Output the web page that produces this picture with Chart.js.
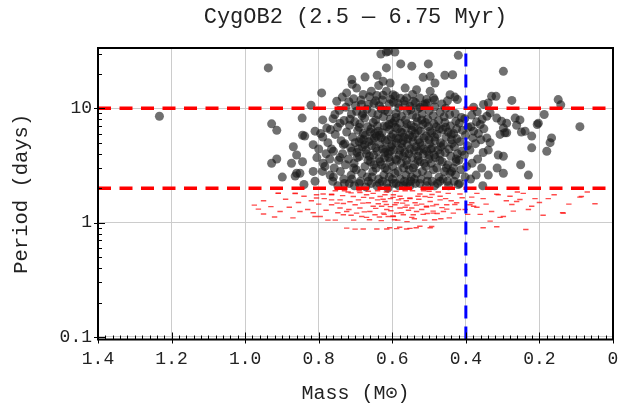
<!DOCTYPE html>
<html>
<head>
<meta charset="utf-8">
<script src="https://cdn.jsdelivr.net/npm/chart.js@4.4.1/dist/chart.umd.min.js"></script>
<style>
  html, body { margin: 0; padding: 0; background: #fff; }
  canvas { display: block; }
</style>
</head>
<body>
<canvas id="graficoPeriodos" width="620" height="407"></canvas>
<script>
// [mass (Msun), period (days)]
const slowRotators = [
  [1.233,8.5],[0.937,22.5],[0.928,7.3],[0.914,6.4],[0.792,13.6],[0.845,8.2],[0.869,4.6],[0.860,3.9],
  [0.914,3.6],[0.928,3.3],[0.874,3.3],[0.844,3.4],[0.899,2.5],[0.860,2.7],[0.851,2.7],[0.864,2.55],
  [0.840,2.15],[0.844,5.8],[0.838,5.7],[0.815,4.8],[0.810,6.3],[0.821,10.6],[0.815,2.8],[0.810,2.3],
  [0.788,3.3],[0.789,5.6],[0.789,7.9],[0.778,6.7],[0.751,11.5],[0.756,8.8],[0.724,13.6],[0.710,17.8],
  [0.697,15.0],[0.674,18.7],[0.641,19.4],[0.631,29.8],[0.611,31.5],[0.616,22.5],[0.769,2.6],[0.760,2.5],
  [0.783,3.1],[0.742,3.7],[0.733,4.8],[0.742,7.4],[0.760,4.2],
  [0.4205,29],[0.577,24.4],[0.547,23.3],[0.502,24.4],[0.616,31],[0.593,31],[0.516,18.6],[0.497,19],
  [0.457,19.4],[0.436,19.6],[0.484,16.6],[0.298,21],[0.443,13.1],[0.423,11.9],[0.330,12.7],[0.318,12.7],
  [0.339,11.1],[0.275,11.7],[0.149,11.9],[0.142,10.7],[0.090,6.9],[0.187,8.8],[0.206,7.2],[0.266,8.2],
  [0.253,7.9],[0.262,7.1],[0.249,6.2],[0.239,6.3],[0.221,5.7],[0.167,5.5],[0.171,5.0],[0.180,4.2],
  [0.221,4.5],[0.339,4.3],[0.312,3.9],[0.298,3.8],[0.289,6.1],[0.298,6.7],[0.251,3.2],[0.230,2.6],
  [0.315,3.0],[0.298,2.7],[0.339,2.6],[0.354,2.1],[0.4205,2.15],[0.439,2.8],[0.427,3.4],[0.379,6.3],
  [0.361,7.2],[0.343,5.5],[0.334,5.0],[0.307,5.9],[0.294,6.1],[0.316,8.2],[0.303,7.7],[0.289,7.4],
  [0.334,9.1],[0.343,8.5],[0.203,7.4],
  [0.625,17.2],[0.606,16.6],[0.616,14.1],[0.598,13.1],[0.565,15.0],[0.534,14.5],[0.561,12.3],[0.543,11.5],
  [0.525,12.3],[0.497,14.1],[0.488,12.3],
  [0.762,2.3],[0.758,3.0],[0.765,4.4],[0.755,5.9],[0.761,8.1],
  [0.748,2.1],[0.741,2.8],[0.746,3.5],[0.739,5.2],[0.749,6.8],[0.744,9.6],[0.736,12.5],
  [0.732,2.4],[0.727,3.2],[0.735,4.0],[0.729,4.9],[0.724,6.2],[0.731,7.8],[0.726,10.2],
  [0.717,2.2],[0.712,2.6],[0.719,3.6],[0.713,4.5],[0.708,5.6],[0.716,7.1],[0.711,8.9],[0.718,11.4],[0.709,16.2],
  [0.703,2.1],[0.698,2.9],[0.704,3.3],[0.696,4.1],[0.701,5.0],[0.694,6.4],[0.702,7.6],[0.697,9.4],[0.705,12.1],
  [0.687,2.3],[0.683,2.7],[0.689,3.8],[0.681,4.6],[0.686,5.4],[0.679,6.0],[0.688,7.3],[0.682,8.6],[0.684,10.8],[0.679,13.2],
  [0.672,2.05],[0.668,2.5],[0.674,3.1],[0.666,3.5],[0.671,4.3],[0.664,5.1],[0.673,5.8],[0.667,6.9],[0.675,8.2],[0.669,9.8],[0.662,12.6],
  [0.657,2.2],[0.653,2.8],[0.659,3.4],[0.651,3.9],[0.656,4.7],[0.649,5.5],[0.658,6.6],[0.652,7.5],[0.655,9.1],[0.650,11.0],[0.657,14.1],
  [0.642,2.1],[0.637,2.4],[0.644,3.0],[0.636,3.6],[0.641,4.2],[0.634,4.9],[0.643,5.7],[0.638,6.3],[0.645,7.9],[0.639,8.8],[0.635,10.5],[0.642,12.9],[0.637,15.8],
  [0.627,2.3],[0.623,2.6],[0.629,3.2],[0.621,3.7],[0.626,4.4],[0.619,5.2],[0.628,6.1],[0.622,7.0],[0.624,8.4],[0.620,9.6],[0.627,11.8],
  [0.612,2.0],[0.608,2.5],[0.614,2.9],[0.606,3.4],[0.611,4.0],[0.604,4.6],[0.613,5.3],[0.607,6.5],[0.609,7.2],[0.605,8.0],[0.612,9.3],[0.608,10.9],
  [0.597,2.2],[0.593,2.7],[0.599,3.1],[0.591,3.6],[0.596,4.3],[0.589,5.0],[0.598,5.9],[0.592,6.8],[0.594,7.7],[0.590,9.0],[0.597,11.3],[0.592,12.8],
  [0.582,2.1],[0.578,2.4],[0.584,2.8],[0.576,3.3],[0.581,3.9],[0.574,4.5],[0.583,5.4],[0.577,6.2],[0.579,7.4],[0.575,8.5],[0.582,10.1],[0.578,12.2],
  [0.567,2.3],[0.563,2.6],[0.569,3.0],[0.561,3.5],[0.566,4.1],[0.559,4.8],[0.568,5.6],[0.562,6.7],[0.564,7.9],[0.560,9.4],[0.567,11.6],
  [0.552,2.1],[0.548,2.5],[0.554,2.9],[0.546,3.7],[0.551,4.4],[0.544,5.1],[0.553,5.8],[0.547,6.4],[0.549,7.1],[0.545,8.7],[0.552,10.4],
  [0.537,2.2],[0.533,2.7],[0.539,3.2],[0.531,3.8],[0.536,4.6],[0.529,5.3],[0.538,6.0],[0.532,7.6],[0.534,8.3],[0.530,9.9],[0.537,11.2],
  [0.522,2.4],[0.518,2.8],[0.524,3.4],[0.516,4.0],[0.521,4.7],[0.514,5.5],[0.523,6.3],[0.517,7.2],[0.519,8.9],[0.515,10.7],
  [0.507,2.1],[0.503,2.6],[0.509,3.1],[0.501,3.6],[0.506,4.2],[0.499,4.9],[0.508,5.7],[0.502,6.9],[0.504,8.0],[0.500,9.5],[0.506,12.0],
  [0.492,2.3],[0.488,2.9],[0.494,3.3],[0.486,3.9],[0.491,4.5],[0.484,5.2],[0.493,6.1],[0.487,7.3],[0.489,8.6],[0.485,10.3],
  [0.477,2.2],[0.473,2.5],[0.479,3.0],[0.471,3.5],[0.476,4.3],[0.469,5.0],[0.478,5.9],[0.472,6.6],[0.474,7.8],[0.470,9.2],
  [0.462,2.4],[0.458,2.8],[0.464,3.4],[0.456,4.1],[0.461,4.8],[0.454,5.6],[0.463,6.5],[0.457,7.5],[0.459,8.4],[0.455,10.0],
  [0.447,2.1],[0.443,2.7],[0.449,3.2],[0.441,3.8],[0.446,4.4],[0.439,5.3],[0.448,6.2],[0.442,7.0],[0.444,8.8],
  [0.432,2.3],[0.428,2.6],[0.434,3.0],[0.426,3.6],[0.431,4.6],[0.424,5.4],[0.433,6.0],[0.427,7.7],[0.429,9.0],
  [0.417,2.2],[0.413,2.9],[0.419,3.5],[0.411,4.2],[0.416,5.1],[0.409,6.4],[0.418,7.4],[0.412,8.3],
  [0.402,2.5],[0.398,3.1],[0.404,3.9],[0.396,4.7],[0.401,5.8],[0.394,6.8],[0.403,8.1],
  [0.387,2.4],[0.383,3.3],[0.389,4.3],[0.381,5.5],[0.386,6.9],[0.384,8.7],[0.379,10.2],
  [0.372,2.6],[0.368,3.6],[0.374,4.9],[0.366,6.0],[0.371,7.6],[0.369,9.3],
  [0.357,3.0],[0.353,4.1],[0.359,5.3],[0.351,6.6],[0.356,8.0],[0.352,10.8],
  [0.695,3.7],[0.675,4.8],[0.660,6.2],[0.645,4.5],[0.630,5.5],[0.615,6.9],[0.600,4.8],[0.585,6.6],
  [0.570,5.2],[0.555,4.0],[0.540,6.8],[0.525,5.0],[0.510,7.5],[0.495,4.4],[0.480,6.9],[0.665,2.3],
  [0.615,2.2],[0.570,2.1],[0.525,2.2],[0.485,2.1],[0.690,5.1],[0.650,3.2],[0.610,3.7],[0.570,3.8],
  [0.530,3.5],[0.600,2.4],[0.550,2.3],[0.620,4.1],[0.580,4.3],[0.540,4.3],[0.500,5.3],[0.640,7.0],
  [0.600,7.4],[0.560,7.3],[0.520,7.9],[0.680,9.0],[0.630,9.9],[0.590,8.3],[0.550,9.7],[0.510,10.9],
  [0.705,3.0],[0.692,4.4],[0.678,5.3],[0.662,3.8],[0.648,6.0],[0.633,3.4],[0.618,4.4],[0.603,5.6],
  [0.588,3.5],[0.573,6.1],[0.558,5.4],[0.543,3.0],[0.528,4.2],[0.513,3.3],[0.498,6.3],[0.483,3.7],
  [0.468,4.6],[0.453,3.0],[0.438,4.9],[0.423,4.0],
  [0.710,4.2],[0.690,6.8],[0.670,4.0],[0.655,5.2],[0.635,5.8],[0.620,3.0],[0.605,4.2],[0.590,5.5],
  [0.575,4.9],[0.560,3.2],[0.545,5.6],[0.530,6.4],[0.515,4.4],[0.500,3.9],[0.485,5.6],[0.470,4.0],
  [0.455,6.8],[0.440,5.9],[0.425,6.6],
  [0.715,8.0],[0.700,10.5],[0.685,11.8],[0.665,10.8],[0.645,11.6],[0.625,13.0],[0.605,12.0],[0.585,11.0],
  [0.565,10.7],[0.545,13.2],[0.525,10.2],[0.505,11.1],[0.485,11.8],[0.465,10.9],[0.450,11.6],[0.430,12.5],
  [0.730,2.2],[0.710,2.4],[0.690,2.2],[0.655,2.5],[0.635,2.2],[0.590,2.2],[0.560,2.2],[0.540,2.4],
  [0.505,2.3],[0.470,2.3],[0.450,2.3],
  [0.770,3.6],[0.775,5.0],[0.780,4.0],[0.768,6.5],[0.790,2.8],[0.800,4.4],[0.805,3.7],[0.795,6.0]
];

const fastRotators = [
  [0.910,1.81],[0.864,1.81],[0.806,1.75],[0.806,1.64],[0.765,1.75],[0.964,1.31],[0.950,1.19],[0.905,1.25],
  [0.851,1.25],[0.810,1.13],[0.796,1.13],[0.975,1.42],[0.765,1.58],[0.765,1.43],
  [0.742,1.58],[0.733,1.47],[0.742,1.34],[0.724,1.25],[0.733,1.17],
  [0.706,1.69],[0.692,1.58],[0.701,1.43],[0.688,1.34],[0.697,1.21],[0.683,1.13],
  [0.670,1.75],[0.656,1.64],[0.665,1.49],[0.652,1.39],[0.661,1.25],[0.647,1.17],[0.670,1.11],
  [0.633,1.69],[0.620,1.53],[0.629,1.39],[0.615,1.30],[0.624,1.21],[0.611,1.13],
  [0.597,1.75],[0.583,1.58],[0.593,1.43],[0.579,1.34],[0.588,1.21],[0.570,1.17],[0.597,1.13],
  [0.552,1.64],[0.538,1.49],[0.547,1.34],[0.534,1.25],[0.543,1.17],
  [0.511,1.69],[0.497,1.53],[0.507,1.39],[0.489,1.21],
  [0.470,1.58],[0.452,1.43],[0.461,1.25],[0.425,1.49],[0.389,1.43],[0.434,1.21],[0.402,1.30],
  [0.724,0.895],[0.701,0.877],[0.679,0.88],[0.642,0.88],[0.615,0.88],[0.588,0.885],[0.561,0.88],[0.535,0.90],[0.493,0.925],
  [0.620,1.75],[0.598,1.66],[0.579,1.70],[0.552,1.62],[0.525,1.78],[0.497,1.66],[0.470,1.70],[0.448,1.80],
  [0.616,1.44],[0.589,1.49],[0.565,1.36],[0.534,1.42],[0.507,1.37],[0.480,1.44],[0.452,1.31],[0.430,1.44],
  [0.622,1.18],[0.598,1.14],[0.575,1.22],[0.547,1.11],[0.516,1.18],[0.489,1.26],
  [0.607,0.90],[0.580,0.91],[0.552,0.89],[0.525,0.93],[0.497,0.90],
  [0.910,1.80],[0.864,1.79],[0.788,1.78],[0.765,1.77],[0.720,1.85],[0.688,1.83],[0.652,1.80],[0.616,1.85],
  [0.416,1.78],[0.384,1.67],[0.353,1.62],[0.316,1.77],[0.280,1.70],[0.244,1.80],[0.212,1.62],[0.176,1.62],
  [0.090,1.67],[0.049,1.46],[0.137,1.22],[0.190,1.16],[0.237,0.87],[0.271,1.26],[0.307,1.11],[0.361,1.18],
  [0.353,0.90],[0.384,1.49],[0.316,0.92],[0.334,1.03],[0.370,1.36],[0.221,1.39],[0.275,1.44],
  [0.312,1.75],[0.262,1.53],[0.253,1.59],[0.086,1.69],[0.135,1.21],[0.298,1.13],[0.379,1.39],
  [0.735,1.72],[0.715,1.52],[0.678,1.66],[0.640,1.58],[0.605,1.62],[0.562,1.55],[0.528,1.60],[0.492,1.76],
  [0.718,1.30],[0.676,1.24],[0.638,1.46],[0.604,1.27],[0.572,1.48],[0.556,1.28],[0.520,1.30],[0.478,1.20],
  [0.748,1.22],[0.712,1.16],[0.662,1.06],[0.630,1.04],[0.594,1.06],[0.560,1.02],[0.512,1.05],[0.468,1.08],
  [0.950,1.55],[0.930,1.38],[0.920,1.12],[0.890,1.60],[0.880,1.36],[0.870,1.10],[0.855,1.50],[0.840,1.70],
  [0.830,1.30],[0.820,1.55],[0.815,1.22],[0.800,1.45],[0.785,1.62],[0.780,1.28],[0.775,1.05],[0.755,1.90],
  [0.750,1.48],[0.755,1.05],[0.730,1.90],[0.712,1.82],[0.705,1.05],[0.690,1.90],[0.680,1.48],[0.665,1.88],
  [0.645,1.33],[0.640,1.90],[0.635,1.12],[0.625,1.60],[0.610,1.92],[0.605,1.38],[0.590,1.88],[0.585,1.05],
  [0.575,1.62],[0.565,1.90],[0.560,1.42],[0.545,1.90],[0.540,1.08],[0.530,1.70],[0.520,1.45],[0.515,1.90],
  [0.505,1.20],[0.500,1.88],[0.490,1.40],[0.485,1.06],[0.475,1.85],[0.465,1.35],[0.455,1.62],[0.445,1.10],
  [0.440,1.55],[0.420,1.30],[0.410,1.65],[0.395,1.18],[0.370,1.80],[0.345,1.45],[0.330,1.25],[0.290,1.55],
  [0.260,1.85],[0.230,1.30],[0.200,1.50],[0.160,1.75],[0.120,1.45],[0.070,1.85]
];

const cutPeriods = [10, 2];
const massCut = 0.4;
const massRange = [1.4, 0];
const periodRange = [0.095, 33.6];
const massTicks = [1.4, 1.2, 1.0, 0.8, 0.6, 0.4, 0.2, 0];
const periodTicks = [0.1, 1, 10];

const fuente = "'Liberation Mono', 'DejaVu Sans Mono', monospace";

// marco y marcas interiores, como en la figura original
const marcoEjes = {
  id: 'marcoEjes',
  afterDraw(chart) {
    const { ctx, chartArea: a, scales: { x, y } } = chart;
    ctx.save();
    ctx.strokeStyle = '#000';
    ctx.lineWidth = 1;
    ctx.beginPath();
    for (let i = 0; i <= 70; i++) {
      const px = Math.round(x.getPixelForValue(i * 0.02)) + 0.5;
      const mayor = i % 10 === 0;
      ctx.moveTo(px, a.bottom + (mayor ? 4 : 0));
      ctx.lineTo(px, a.bottom - (mayor ? 7 : 4));
    }
    for (let d = -2; d <= 1; d++) {
      for (let k = 1; k <= 9; k++) {
        const v = k * Math.pow(10, d);
        if (v < y.min || v > y.max) continue;
        const py = Math.round(y.getPixelForValue(v)) + 0.5;
        const mayor = k === 1;
        ctx.moveTo(a.left - (mayor ? 4 : 0), py);
        ctx.lineTo(a.left + (mayor ? 7 : 4), py);
      }
    }
    ctx.stroke();
    ctx.lineWidth = 2;
    ctx.strokeRect(a.left, a.top, a.right - a.left, a.bottom - a.top);
    ctx.restore();
  }
};

const ctx = document.getElementById('graficoPeriodos').getContext('2d');

const grafico = new Chart(ctx, {
  type: 'scatter',
  data: {
    datasets: [
      {
        label: 'masa limite',
        data: [{ x: massCut, y: periodRange[0] }, { x: massCut, y: periodRange[1] }],
        showLine: true,
        borderColor: '#0000ff',
        borderWidth: 3,
        borderDash: [13, 8],
        pointRadius: 0,
        order: 0
      },
      ...cutPeriods.map(p => ({
        label: 'corte ' + p,
        data: [{ x: massRange[0], y: p }, { x: massRange[1], y: p }],
        showLine: true,
        borderColor: '#ff0000',
        borderWidth: 3.5,
        borderDash: [13, 8.5],
        pointRadius: 0,
        order: 1
      })),
      {
        label: 'rapidas',
        data: fastRotators.map(([m, p]) => ({ x: m, y: p })),
        pointStyle: 'line',
        pointRadius: 2.7,
        borderColor: 'rgba(255,0,0,0.7)',
        borderWidth: 1.4,
        order: 2
      },
      {
        label: 'lentas',
        data: slowRotators.map(([m, p]) => ({ x: m, y: p })),
        pointRadius: 4.5,
        borderWidth: 0,
        backgroundColor: 'rgba(25,25,25,0.62)',
        order: 3
      }
    ]
  },
  options: {
    responsive: false,
    animation: false,
    devicePixelRatio: 1,
    events: [],
    layout: { padding: { left: 0, right: 7, top: 0, bottom: 0 } },
    plugins: {
      legend: { display: false },
      tooltip: { enabled: false },
      title: {
        display: true,
        fullSize: false,
        text: 'CygOB2 (2.5 — 6.75 Myr)',
        color: '#222',
        font: { family: fuente, size: 22, weight: 'normal', lineHeight: 1.2 },
        padding: { top: 4, bottom: 17.6 }
      }
    },
    scales: {
      x: {
        type: 'linear',
        reverse: true,
        min: massRange[1],
        max: massRange[0],
        afterBuildTicks: s => { s.ticks = massTicks.map(v => ({ value: v })); },
        afterFit: s => { s.height = 67.5; s.paddingLeft = 0; s.paddingRight = 0; },
        grid: { color: '#cccccc', drawTicks: false },
        border: { display: false },
        ticks: {
          padding: 9,
          color: '#222',
          font: { family: fuente, size: 18 },
          callback: v => (v === 0 ? '0' : Number(v).toFixed(1))
        },
        title: {
          display: true,
          text: 'Mass (M⊙)',
          color: '#222',
          font: { family: fuente, size: 20 },
          padding: { top: 0, bottom: 1 }
        }
      },
      y: {
        type: 'logarithmic',
        min: periodRange[0],
        max: periodRange[1],
        afterBuildTicks: s => { s.ticks = periodTicks.map(v => ({ value: v })); },
        afterFit: s => { s.width = 98; },
        grid: { color: '#cccccc', drawTicks: false },
        border: { display: false },
        ticks: {
          padding: 6,
          color: '#222',
          font: { family: fuente, size: 18 },
          callback: v => String(v)
        },
        title: {
          display: true,
          text: 'Period (days)',
          color: '#222',
          font: { family: fuente, size: 20.5 },
          padding: { top: 9, bottom: 0 }
        }
      }
    }
  },
  plugins: [marcoEjes]
});
</script>
</body>
</html>
